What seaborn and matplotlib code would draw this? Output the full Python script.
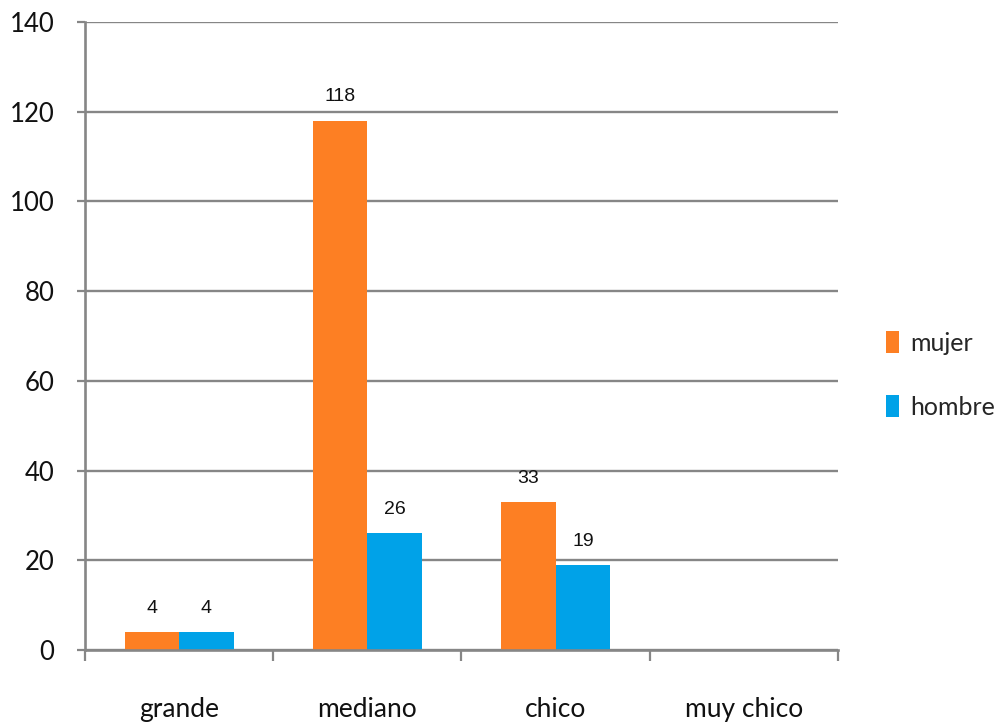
import matplotlib
matplotlib.use("Agg")
import matplotlib.pyplot as plt
import seaborn as sns
import pandas as pd
import numpy as np
from matplotlib.patches import Patch

categorias = ["grande", "mediano", "chico", "muy chico"]
mujer = [4, 118, 33, 0]
hombre = [4, 26, 19, 0]
series = ["mujer", "hombre"]
colores = ["#FD7F23", "#00A2E8"]
y_ticks = [0, 20, 40, 60, 80, 100, 120, 140]

df = pd.DataFrame({
    "categoria": categorias * 2,
    "valor": mujer + hombre,
    "sexo": ["mujer"] * len(categorias) + ["hombre"] * len(categorias),
})

sns.set_style("white")
plt.rcParams["font.family"] = ["Lato", "DejaVu Sans"]

fig = plt.figure(figsize=(10.08, 7.25), dpi=100)
ax = fig.add_axes([0.0843, 0.1034, 0.747, 0.8663])

sns.barplot(data=df, x="categoria", y="valor", hue="sexo", hue_order=series,
            palette=colores, width=0.58, gap=0, saturation=1, ax=ax,
            legend=False, linewidth=0)

gris = "#868686"
ax.set_ylim(0, 140)
ax.set_xlim(-0.5, len(categorias) - 0.5)
ax.set_yticks(y_ticks)
ax.yaxis.grid(True, color=gris, linewidth=1.7)
ax.set_axisbelow(True)
for s in ["top", "right"]:
    ax.spines[s].set_visible(False)
for s in ["left", "bottom"]:
    ax.spines[s].set_color(gris)
    ax.spines[s].set_linewidth(1.9)

ax.tick_params(axis="y", length=6, width=1.6, color=gris, pad=16,
               labelsize=18.5, labelcolor="#111111", left=True)
ax.set_xticks(np.arange(-0.5, len(categorias), 1.0), minor=True)
ax.tick_params(axis="x", which="minor", length=8, width=1.6, color=gris, bottom=True)
ax.tick_params(axis="x", which="major", length=0, pad=34, labelsize=19,
               labelcolor="#111111")
ax.set_xlabel("")
ax.set_ylabel("")

for cont in ax.containers:
    etiquetas = [f"{v:g}" if v > 0 else "" for v in cont.datavalues]
    ax.bar_label(cont, labels=etiquetas, padding=11, fontsize=14,
                 family=["Liberation Sans", "DejaVu Sans"], color="#111111")

handles = [Patch(facecolor=c, edgecolor="none") for c in colores]
fig.legend(handles, series, loc="center left", bbox_to_anchor=(0.857, 0.483),
           frameon=False, fontsize=18, handlelength=0.5, handleheight=1.0,
           handletextpad=0.45, labelspacing=1.6)

fig.savefig("out.png", dpi=100, facecolor="white")
